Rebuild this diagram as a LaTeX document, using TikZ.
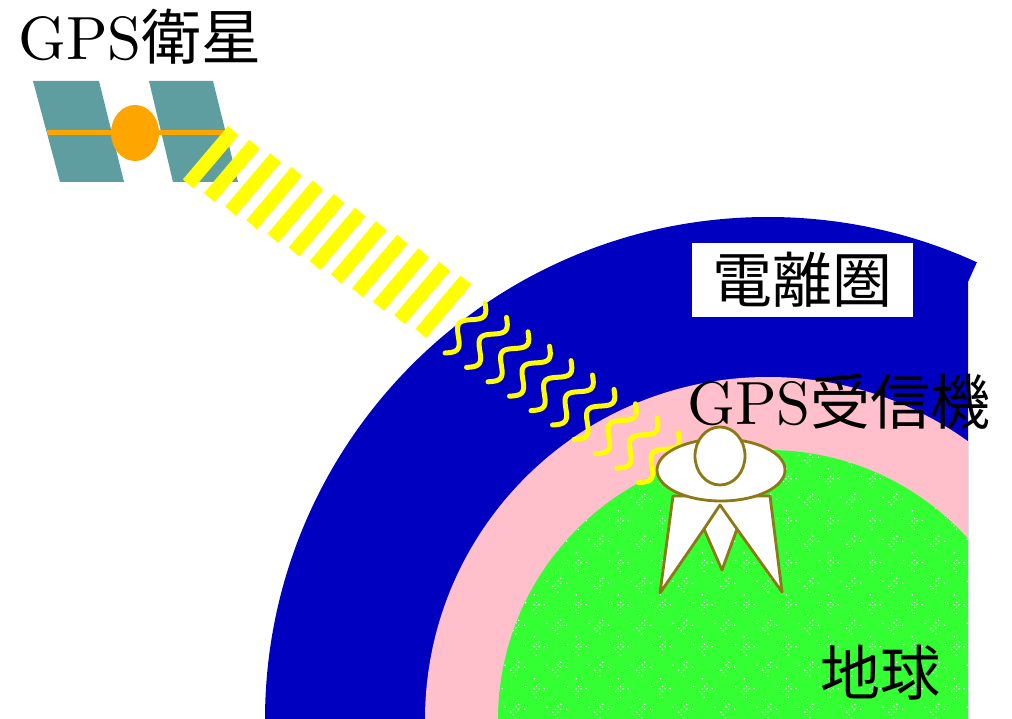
\documentclass[tikz,border=0pt]{standalone}
\usepackage{fontspec}
\newfontfamily\cjk{Noto Sans CJK JP}
\newfontfamily\lmten[Extension=.otf]{lmroman10-regular}
\usetikzlibrary{patterns.meta}

\definecolor{ionoblue}{RGB}{0,0,192}
\definecolor{airpink}{RGB}{255,192,203}
\definecolor{earthgreen}{RGB}{51,255,51}
\definecolor{panelteal}{RGB}{95,158,160}
\definecolor{bodyorange}{RGB}{255,165,0}
\definecolor{signalyellow}{RGB}{255,255,0}
\definecolor{figolive}{RGB}{140,120,20}

% white speckle texture of the ground
\pgfdeclarepattern{
  name=earthdots,
  type=uncolored,
  bottom left={\pgfpoint{0pt}{0pt}},
  top right={\pgfpoint{42pt}{42pt}},
  tile size={\pgfpoint{42pt}{42pt}},
  code={
    \foreach \px/\py in {7/7,9.7/9.7,12.3/12.3,15/15,9.5/4.5,12.2/7.2,14.9/9.9,1/12,21/10,10/20,12/1,
                         28/28,30.7/30.7,33.3/33.3,36/36,30.5/25.5,33.2/28.2,35.9/30.9,22/33,41/31,31/41,33/22}{
      \pgfpathcircle{\pgfpoint{\px pt}{\py pt}}{0.8pt}
      \pgfusepath{fill}
    }
  }
}

\tikzset{
  lbl/.style={inner sep=0pt, font=\lmten\fontsize{61}{70}\selectfont},
  cjklbl/.style={inner sep=0pt, font=\cjk\fontsize{60}{70}\selectfont},
  stripe/.style={signalyellow, line width=14pt},
  squiggle/.style={signalyellow, line width=5pt, line cap=round},
  figline/.style={draw=figolive, fill=white, line width=2.8pt, line join=round},
}

\newcommand{\cj}[1]{{\cjk\fontsize{60}{70}\selectfont #1}}

\begin{document}
\begin{tikzpicture}[x=1pt,y=-1pt]
\useasboundingbox (0,0) rectangle (1012,719);
\fill[white] (0,0) rectangle (1012,719);

% atmosphere layers and the ground
\begin{scope}
  \clip (0,0) -- (977,0) -- (977,262) -- (968,282) -- (968,719) -- (0,719) -- cycle;
  \fill[ionoblue] (768,720) circle[radius=503pt];
  \fill[airpink] (768,720) circle[radius=343pt];
  \fill[earthgreen] (768,720) circle[radius=270pt];
  \fill[pattern=earthdots, pattern color=white] (768,720) circle[radius=270pt];
\end{scope}

% satellite
\fill[panelteal] (33,81) -- (99,81) -- (124,182) -- (60,182) -- cycle;
\fill[panelteal] (149,81) -- (213,81) -- (238,182) -- (173,182) -- cycle;
\draw[bodyorange, line width=5pt] (47,133) -- (225,133);
\fill[bodyorange] (135,133) ellipse[x radius=24pt, y radius=28pt];

% striped signal beam
\foreach \i in {0,...,11}{
  \pgfmathsetmacro\sx{210.8+21.14*\i}
  \pgfmathsetmacro\sy{157.3+13.58*\i}
  \draw[stripe] (\sx-22.6,\sy+26.7) -- (\sx+22.6,\sy-26.7);
}

% wavy signal through the ionosphere
\foreach \i in {0,...,9}{
  \pgfmathsetmacro\bx{445+21.5*\i}
  \pgfmathsetmacro\by{353+14.4*\i}
  \draw[squiggle] plot[domain=0:1, samples=40, smooth]
    ({\bx+40*\x+7.5*0.78*sin(540*\x)}, {\by-50*\x+7.5*0.625*sin(540*\x)});
}

% receiver figure
\draw[figline] (673,496) -- (660,593) -- (704,529) -- (722,570) -- (737,529) -- (782,592) -- (770,496) -- cycle;
\draw[figline, fill=none] (704,529) -- (720,505) -- (737,529);
\draw[figline] (721,470) ellipse[x radius=64pt, y radius=31pt];
\draw[figline] (720,456) ellipse[x radius=25pt, y radius=29pt];

% labels
\node[lbl, anchor=base west] (satlabel) at (18,60) {GPS\cj{衛星}};
\node[cjklbl, fill=white, minimum width=221pt, minimum height=74pt] (ionolabel) at (802.5,280) {電離圏};
\node[lbl, anchor=base west] (rcvlabel) at (687,424) {GPS\cj{受信機}};
\node[cjklbl] (earthlabel) at (880,672.5) {地球};
\end{tikzpicture}
\end{document}
